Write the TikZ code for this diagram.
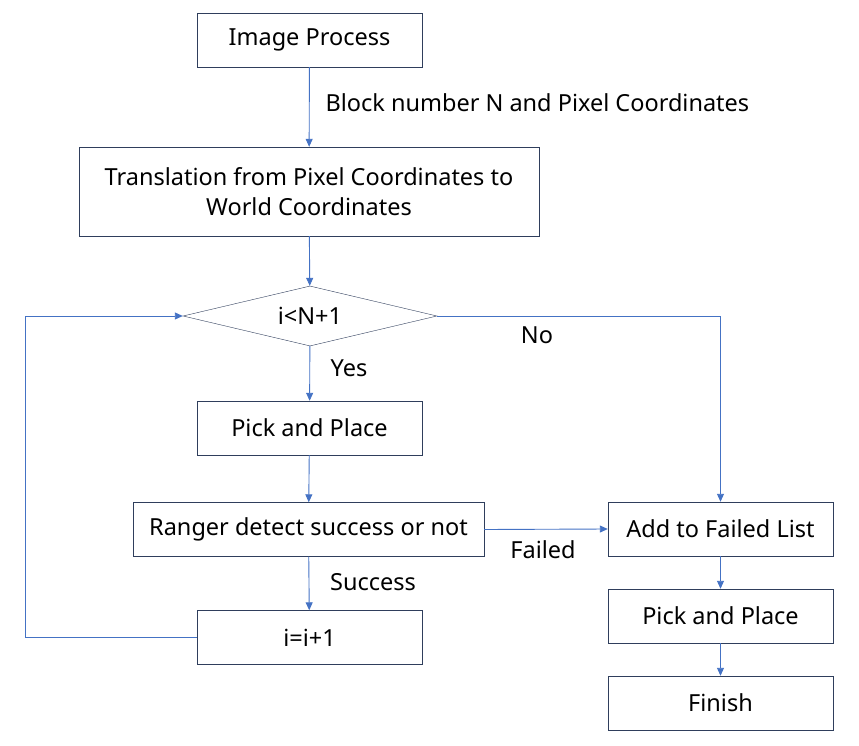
\documentclass[tikz,border=0pt]{standalone}
\usepackage{fontspec}
\setmainfont{Noto Sans}
\usepackage{tikz}
\usetikzlibrary{positioning, arrows.meta, shapes.geometric, calc}
\definecolor{boxline}{RGB}{47, 62, 92}
\definecolor{flowblue}{RGB}{68, 114, 196}

\begin{document}
\begin{tikzpicture}[x=1pt, y=-1pt,
  flowbox/.style={draw=boxline, rectangle, inner sep=0pt, minimum height=54pt, align=center, fill=white},
  decision/.style={draw=boxline, diamond, aspect=4.2, inner sep=0pt, minimum width=254pt, minimum height=60pt},
  flow/.style={draw=flowblue, line width=0.9pt, -{Triangle[length=8pt, width=7pt]}},
  lbl/.style={font=\fontsize{23.5}{30}\selectfont}
]
    \useasboundingbox (0,0) rectangle (859,746);

    \begin{scope}[every node/.append style={font=\fontsize{23.5}{30}\selectfont}]
        \node[flowbox, minimum width=225pt] (imgproc) at (309.5, 40) {Image Process};
        \node[flowbox, minimum width=460pt, minimum height=89pt] (trans) at (309, 191.5) {Translation from Pixel Coordinates to\\World Coordinates};
        \node[decision] (cond) at (310, 316) {i<N+1};
        \node[flowbox, minimum width=225pt] (pick) at (309.5, 428) {Pick and Place};
        \node[flowbox, minimum width=351pt] (ranger) at (308.5, 529.5) {Ranger detect success or not};
        \node[flowbox, minimum width=225pt] (incr) at (309.5, 637.5) {i=i+1};
        \node[flowbox, minimum width=225pt] (failed) at (720.5, 529) {Add to Failed List};
        \node[flowbox, minimum width=225pt] (pick2) at (720.5, 616) {Pick and Place};
        \node[flowbox, minimum width=225pt] (finish) at (720.5, 703) {Finish};
    \end{scope}

    \coordinate (loopleft) at (25, 0);

    \draw[flow] (imgproc) -- (trans);
    \draw[flow] (trans) -- (cond);
    \draw[flow] (cond) -- (pick);
    \draw[flow] (pick) -- (ranger);
    \draw[flow] (ranger) -- (incr);
    \draw[flow] (incr.west) -| (loopleft |- cond.west) -- (cond.west);
    \draw[flow] (cond.east) -| (failed.north);
    \draw[flow] (ranger.east) -- (failed.west);
    \draw[flow] (failed) -- (pick2);
    \draw[flow] (pick2) -- (finish);

    \node[lbl, anchor=west] (lblblock) at (322, 103) {Block number N and Pixel Coordinates};
    \node[lbl] (lblno) at (537, 335) {No};
    \node[lbl] (lblyes) at (349, 368) {Yes};
    \node[lbl] (lblsucc) at (373, 582) {Success};
    \node[lbl] (lblfail) at (543, 550) {Failed};
\end{tikzpicture}
\end{document}
